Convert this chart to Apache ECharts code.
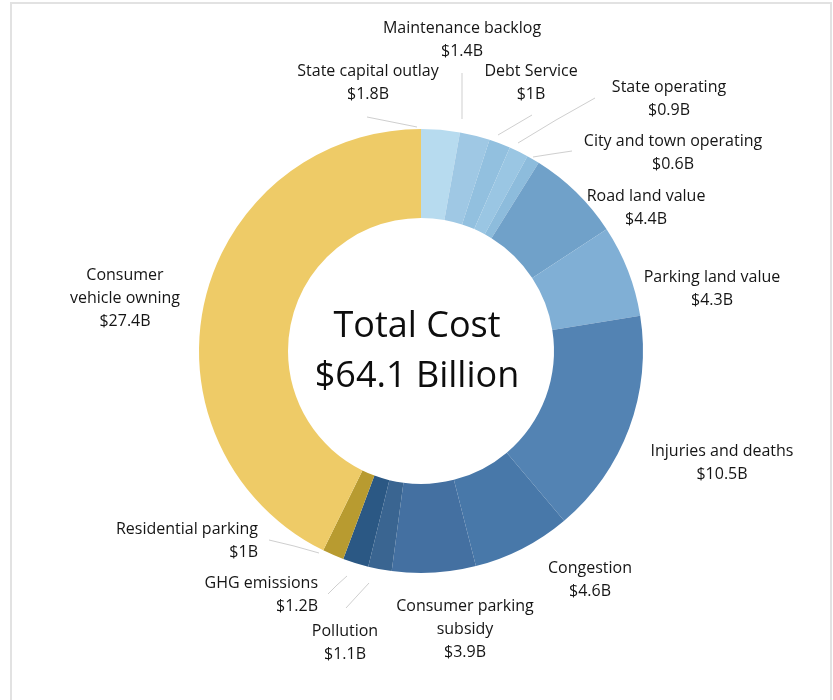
<!DOCTYPE html>
<html>
<head>
<meta charset="utf-8">
<script src="https://cdn.jsdelivr.net/npm/echarts@6/dist/echarts.min.js"></script>
<style>
html,body{margin:0;padding:0;background:#fff;}
#chart{width:833px;height:700px;}
</style>
</head>
<body>
<div id="chart"></div>
<script>
const categories = ["State capital outlay","Maintenance backlog","Debt Service","State operating","City and town operating","Road land value","Parking land value","Injuries and deaths","Congestion","Consumer parking subsidy","Pollution","GHG emissions","Residential parking","Consumer vehicle owning"];
const labelNames = ["State capital outlay","Maintenance backlog","Debt Service","State operating","City and town operating","Road land value","Parking land value","Injuries and deaths","Congestion","Consumer parking\nsubsidy","Pollution","GHG emissions","Residential parking","Consumer\nvehicle owning"];
const values = [1.8,1.4,1,0.9,0.6,4.4,4.3,10.5,4.6,3.9,1.1,1.2,1,27.4];
const colors = ["#b7dbef","#9fc8e4","#92c0df","#9ac6e3","#8dbcdc","#70a1c9","#80afd5","#5383b3","#4878a9","#4470a1","#3a6591","#2b5884","#b89b30","#eecb67"];
const totalText = ["Total Cost","$64.1 Billion"];

// label placement (layout only)
const labelPlace = [
  {x:368,y:83,align:'center',line:[[367,117],[392,122],[417,127]]},
  {x:462,y:40,align:'center',line:[[462,73],[462,96],[462,119]]},
  {x:531,y:83,align:'center',line:[[532,115],[515,125],[498,135]]},
  {x:669,y:99,align:'center',line:[[595,98],[556,120],[518,143]]},
  {x:673,y:153,align:'center',line:[[572,151],[552,154],[533,157]]},
  {x:646,y:208,align:'center'},
  {x:712,y:289,align:'center'},
  {x:722,y:463,align:'center'},
  {x:590,y:580,align:'center'},
  {x:465,y:629,align:'center'},
  {x:345,y:643,align:'center',line:[[369,583],[357,596],[346,608]]},
  {x:318,y:595,align:'right',line:[[347,576],[337,585],[328,594]]},
  {x:258,y:541,align:'right',line:[[269,540],[294,546],[319,553]]},
  {x:125,y:298,align:'center'}
];

const chart = echarts.init(document.getElementById('chart'), null, {renderer:'canvas'});
const data = categories.map((n,i)=>({
  name:n,
  value:values[i],
  itemStyle:{color:colors[i]},
  labelLine:{show: !!labelPlace[i].line}
}));
chart.setOption({
  backgroundColor:'#ffffff',
  animation:false,
  graphic:[
    {type:'rect',shape:{x:11,y:3,width:820,height:710},style:{fill:null,stroke:'#e2e2e2',lineWidth:2},silent:true,z:-1},
    {type:'text',x:417,y:327,style:{text:totalText[0],font:'36px "Open Sans", sans-serif',fill:'#0d0d0d',textAlign:'center',textVerticalAlign:'middle'}},
    {type:'text',x:417,y:377,style:{text:totalText[1],font:'36px "Open Sans", sans-serif',fill:'#0d0d0d',textAlign:'center',textVerticalAlign:'middle'}}
  ],
  series:[{
    type:'pie',
    center:[421,351],
    radius:[133,222],
    startAngle:90,
    clockwise:true,
    avoidLabelOverlap:false,
    emphasis:{disabled:true},
    itemStyle:{borderWidth:0},
    label:{
      show:true,
      position:'outside',
      color:'#151515',
      fontFamily:'"Open Sans", sans-serif',
      fontSize:16,
      lineHeight:23,
      formatter:(p)=>labelNames[p.dataIndex]+'\n$'+p.value+'B'
    },
    labelLine:{lineStyle:{color:'#cfcfcf',width:1}},
    labelLayout:(params)=>{
      const lp = labelPlace[params.dataIndex];
      const o = {x:lp.x,y:lp.y,align:lp.align,verticalAlign:'middle'};
      if (lp.line) o.labelLinePoints = lp.line;
      return o;
    },
    data:data
  }]
});
</script>
</body>
</html>
